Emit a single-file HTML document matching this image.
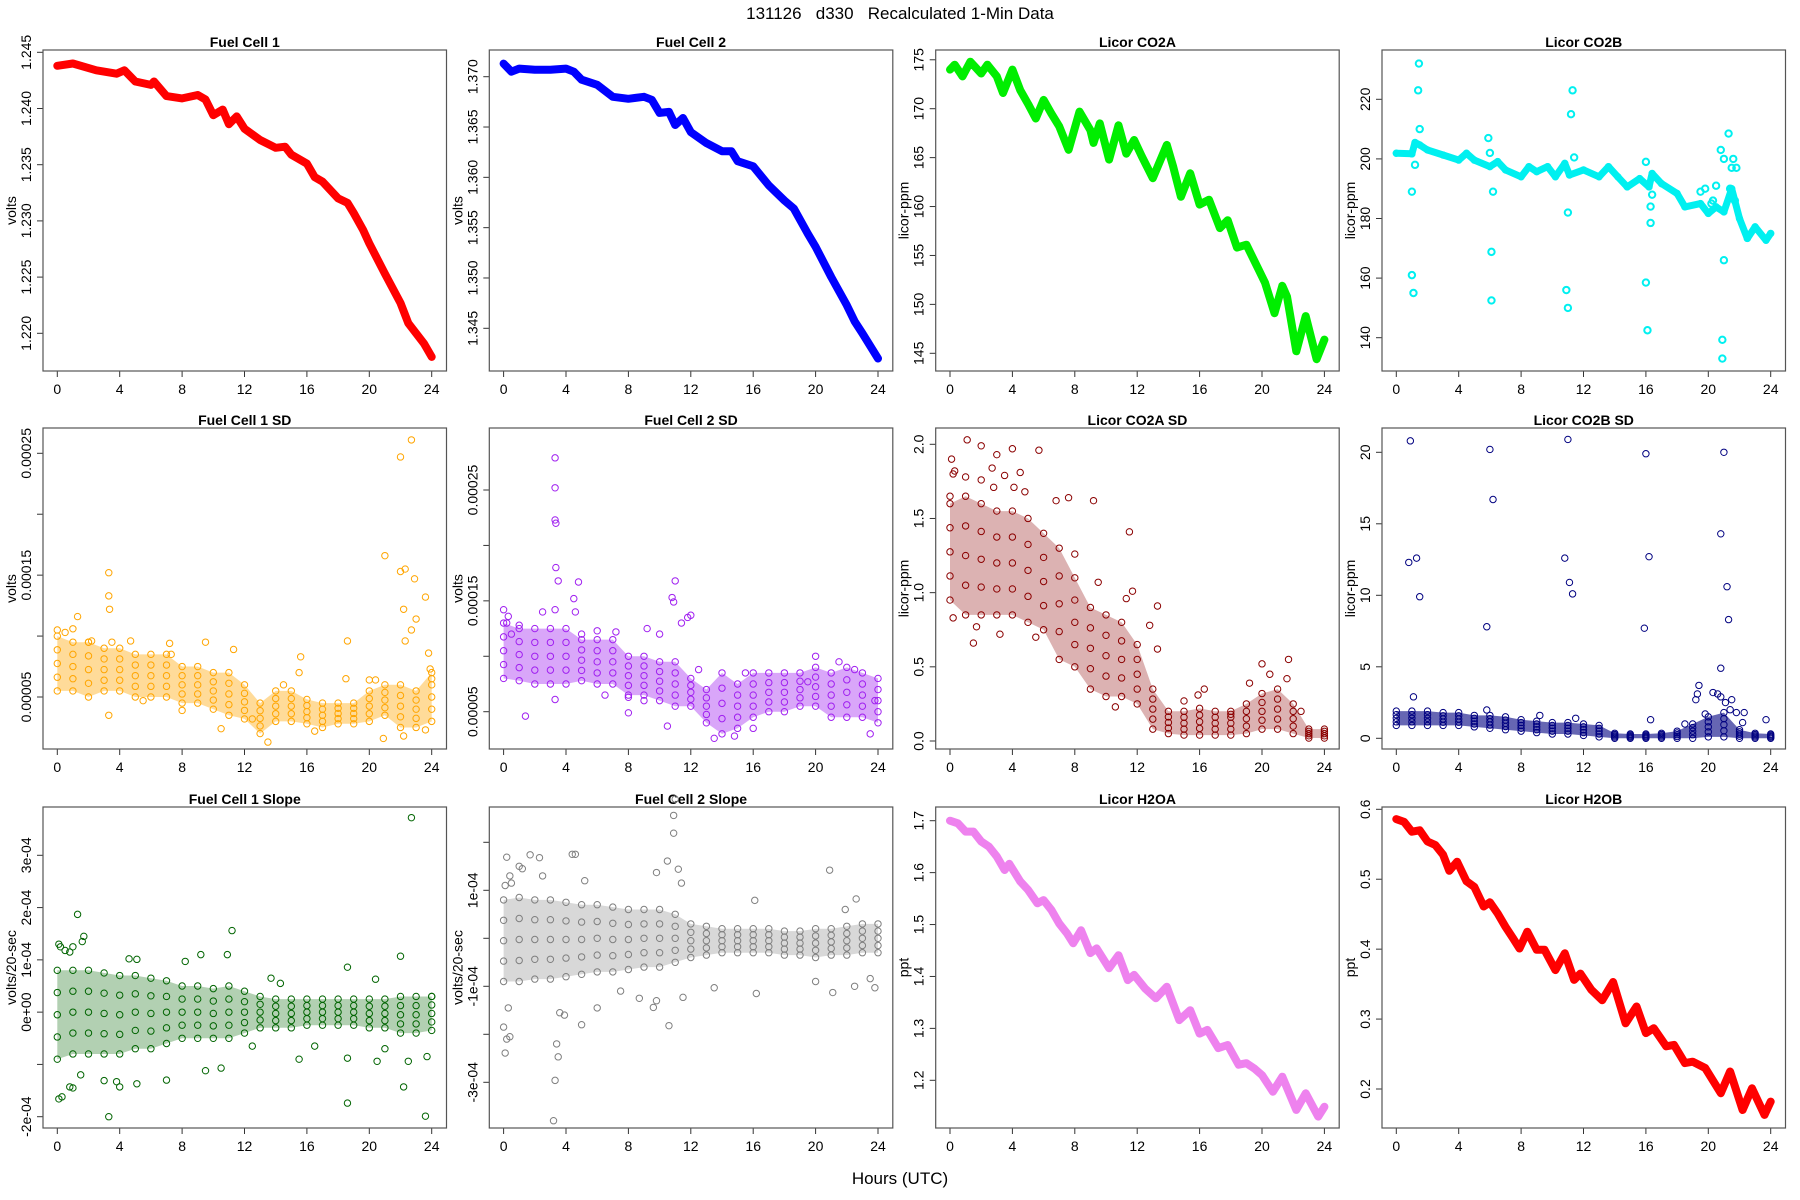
<!DOCTYPE html>
<html><head><meta charset="utf-8"><title>131126 d330 Recalculated 1-Min Data</title>
<style>
html,body{margin:0;padding:0;background:#fff;}
svg{display:block;font-family:"Liberation Sans",Arial,sans-serif;}
</style></head>
<body>
<svg id="fig" width="1800" height="1200" viewBox="0 0 1800 1200" xmlns="http://www.w3.org/2000/svg">
<rect x="0" y="0" width="1800" height="1200" fill="#fff"/>
<text x="900" y="19" text-anchor="middle" font-size="17" fill="#000" style="white-space:pre" xml:space="preserve">131126   d330   Recalculated 1-Min Data</text>
<text x="900" y="1184" text-anchor="middle" font-size="17" fill="#000">Hours (UTC)</text>
</svg>
<script>
// ---------- data ----------
const xTicks = [0,4,8,12,16,20,24];
const bandHours = [0,1,2,3,4,5,6,7,8,9,10,11,12,13,14,15,16,17,18,19,20,21,22,23,24];

// Fuel Cell 1 (volts)
const fc1Hours = [0,1,2.5,3.8,4.3,5,6,6.2,7,8,9,9.5,10,10.6,11,11.5,12,13,14,14.6,15,16,16.5,17,18,18.6,19,19.6,20,21,22,22.5,23,23.5,24];
const fc1Volts = [1.2438,1.2440,1.2434,1.2431,1.2434,1.2424,1.2421,1.2424,1.2411,1.2409,1.2412,1.2408,1.2394,1.2399,1.2386,1.2393,1.2382,1.2372,1.2365,1.2366,1.2359,1.2351,1.2339,1.2335,1.2320,1.2316,1.2307,1.2292,1.2280,1.2253,1.2227,1.2209,1.2200,1.2191,1.2179];
// Fuel Cell 2 (volts)
const fc2Hours = [0,0.5,1,2,3,4,4.5,5,6,7,8,9,9.5,10,10.6,11,11.5,12,13,14,14.6,15,16,17,18,18.6,19.5,20,21,22,22.5,23,24];
const fc2Volts = [1.3713,1.3705,1.3708,1.3707,1.3707,1.3708,1.3705,1.3697,1.3692,1.3680,1.3678,1.3680,1.3677,1.3664,1.3665,1.3652,1.3659,1.3645,1.3634,1.3626,1.3626,1.3616,1.3611,1.3592,1.3577,1.3569,1.3544,1.3531,1.3501,1.3473,1.3457,1.3445,1.3420];
// Licor CO2A (ppm)
const co2aHours = [0,0.3,0.8,1.3,2,2.4,3,3.4,4,4.5,5,5.5,6,6.5,7,7.6,8.3,9,9.2,9.6,10.2,10.8,11.3,11.8,12.3,13,13.9,14.3,14.8,15.4,16,16.6,17.3,17.8,18.4,19,19.8,20.2,20.8,21.3,21.6,22.2,22.8,23.5,24];
const co2aPpm = [174.0,174.5,173.3,174.8,173.6,174.5,173.3,171.6,174.0,171.9,170.5,169.0,170.9,169.5,168.2,165.8,169.7,167.8,166.5,168.5,164.8,168.3,165.4,166.8,165.1,162.9,166.3,164.1,161.0,163.4,160.2,160.7,157.8,158.6,155.8,156.1,153.5,152.2,149.1,151.9,150.8,145.2,148.8,144.4,146.4];
// Licor CO2B (ppm)
const co2bHours = [0,1,1.2,1.5,2,3,4,4.5,5,6,6.5,7,8,8.5,9,9.7,10.2,10.8,11.1,12,13,13.6,14.2,14.8,15.6,16.2,16.4,17,18,18.5,19.5,20,20.5,21,21.5,22,22.5,23,23.7,24];
const co2bPpm = [201.9,201.7,205.5,204.7,203.0,201.3,199.6,201.9,199.6,197.4,199.1,196.3,194.0,197.4,195.7,197.4,194.0,198.5,194.6,196.3,194.0,197.4,194.0,190.6,193.4,190.6,195.1,191.7,188.4,183.9,185.0,181.7,183.9,182.2,190.0,180.0,173.3,177.2,172.7,175.0];
const co2bOutHours = [1.1,1.0,1.0,1.2,1.4,1.45,1.5,5.9,6.0,6.1,6.1,6.2,10.9,11.0,11.0,11.3,11.2,11.4,16.0,16.0,16.1,16.3,16.3,16.4,20.9,20.9,21.0,21.3,20.8,21.0,21.6,21.5,21.8,21.4,21.7,20.5,20.2,19.5,19.8,20.3];
const co2bOutPpm = [155,161,189,198,223,232,210,207,202,168.8,152.5,189,156,150,182,223,215,200.5,199,158.5,142.5,184,178.5,188,139.3,133,166,208.5,203,200,200,197,197,190,186,191,185,189,190,186];

// Fuel Cell 1 SD (units of 1e-5 volts)
const fc1sdLow = [5.5,5.5,5,5.5,5.5,5,5,5,4.5,4.5,4,3.5,3.2,2,3,3,2.8,2.5,2.8,2.8,3,3.5,2.5,2.5,3];
const fc1sdHigh = [10,9.5,9.5,9,9,8.5,8.5,8.5,7.5,7.5,7,7,6,4.5,5.5,5.5,4.8,4.5,4.5,4.5,5.5,6,6,5.5,7];
const fc1sdOutHours = [0,0.5,1,1.3,2,2.2,3.3,3.35,3.3,3.3,3.5,4.7,5.5,7.2,7.3,8,9.5,11.3,10.5,12.5,13.5,14.5,15.6,15.5,16.5,18.6,18.5,20,20.4,20.9,21,22,22.7,22,22.3,22.9,23.6,22.2,23,22.7,22.3,23.8,23.9,24,22.2,23.6];
const fc1sdOutVal = [10.5,10.3,10.6,11.6,9.5,9.6,13.3,12.2,15.2,3.5,9.5,9.6,4.7,9.4,8.5,3.9,9.5,8.9,2.4,3.2,1.3,6,8.3,7,2.2,9.6,6.5,6.4,6.4,1.6,16.6,24.7,26.1,15.3,15.5,14.7,13.2,12.2,11.4,10.5,9.6,8.6,7.3,6.5,1.8,2.3];
// Fuel Cell 2 SD (units of 1e-5 volts)
const fc2sdLow = [8,7.8,7.5,7.5,7.5,7.8,7.5,7.5,6.5,6.5,6,5.5,5.5,4,3,3.5,4.5,5,5,5.5,5.5,4.5,4.5,4.5,4];
const fc2sdHigh = [13,12.5,12.5,12.5,12.5,11.5,11.5,11.5,10,10,9.5,9.5,8,7,8.5,7.5,8.5,8.5,8.5,8.5,9,8.5,9,8.5,8];
const fc2sdOutHours = [0,0.2,0.3,0.5,1,1.4,2.5,3.3,3.3,3.3,3.35,3.35,3.5,3.3,3.3,4.5,4.6,4.8,5,6,6.5,7.2,8,8,9,9.2,10,10.5,10.8,10.9,11,11.4,11.8,12,12.5,13.5,14.8,15.5,16,19.5,20,21.5,22.5,23.5,23.8];
const fc2sdOutVal = [14.2,13,13.6,12,12.8,4.6,14,27.9,25.2,22.3,22,18,16.8,14.2,6.1,15.2,14,16.7,12,12.3,6.5,12.2,4.9,6.3,6,12.5,12,3.7,15.3,14.9,16.8,13,13.5,13.7,8.8,2.6,2.8,8.5,3.5,7.7,10,9.5,8.8,3,6];
// Licor CO2A SD (ppm)
const co2asdLow = [0.95,0.85,0.85,0.85,0.85,0.8,0.75,0.55,0.5,0.35,0.3,0.3,0.25,0.08,0.05,0.04,0.04,0.04,0.04,0.05,0.08,0.08,0.05,0.02,0.02];
const co2asdHigh = [1.6,1.65,1.6,1.55,1.55,1.5,1.4,1.3,1.1,0.9,0.85,0.8,0.65,0.35,0.2,0.2,0.22,0.2,0.2,0.25,0.32,0.35,0.25,0.08,0.08];
const co2asdOutHours = [0,0.1,0.2,0.3,0.2,1,1.1,1.5,1.7,2,2,2.7,2.8,3,3.2,3.5,4,4.1,4.5,4.8,5.7,5.5,6.8,7.6,8,9.2,9.5,10.6,11.3,11.5,11.7,12.8,13.3,13.3,15,15.9,16.3,18,19.2,20,20.5,21.7,21.6,22.5];
const co2asdOutVal = [1.65,1.9,1.8,1.82,0.83,1.78,2.03,0.66,0.77,1.99,1.76,1.84,1.71,1.93,0.72,1.79,1.97,1.71,1.81,1.68,1.96,0.7,1.62,1.64,1.26,1.62,1.07,0.23,0.96,1.41,1.01,0.78,0.91,0.62,0.27,0.31,0.35,0.18,0.39,0.52,0.45,0.55,0.42,0.2];
// Licor CO2B SD (ppm)
const co2bsdLow = [0.9,0.9,0.9,0.9,0.9,0.8,0.7,0.6,0.5,0.4,0.3,0.3,0.2,0.1,0,0,0,0,0,0,0.1,0.1,0,0,0];
const co2bsdHigh = [1.9,1.9,1.9,1.8,1.8,1.6,1.6,1.5,1.3,1.2,1.1,1.1,1.0,0.9,0.35,0.3,0.3,0.35,0.5,1,1.5,1.8,0.6,0.35,0.3];
const co2bsdOutHours = [0.9,0.8,1.3,1.5,1.1,6,6.2,5.8,5.8,11,10.8,11.1,11.3,16,16.2,15.9,16.3,21,20.8,21.2,21.3,20.8,19.4,19.3,19.2,20.3,20.6,20.8,21.1,21.5,19.8,21.4,21.8,22.3,22.2,23.7,9.2,18.5,11.5];
const co2bsdOutVal = [20.8,12.3,12.6,9.9,2.9,20.2,16.7,7.8,1.98,20.9,12.6,10.9,10.1,19.9,12.7,7.7,1.3,20,14.3,10.6,8.3,4.9,3.7,3.1,2.7,3.2,3.1,2.9,2.5,2.7,1.7,2.0,1.8,1.8,1.1,1.3,1.6,1.0,1.4];
// Fuel Cell 1 Slope (units of 1e-5 volts/20-sec)
const fc1slLow = [-9,-8,-8,-8,-8,-7,-7,-6,-5,-5,-5,-5,-4,-3,-3,-3,-2.5,-2.5,-2.5,-2.5,-3,-3,-4,-4,-3.5];
const fc1slHigh = [8,8,8,7.5,7,7,6.5,6,5,5,4.5,5,4,3,2.5,2.5,2.5,2.5,2.5,2.5,2.5,2.5,3,3,3];
const fc1slOutHours = [0.1,0.3,0.1,0.2,0.5,0.8,1,1.3,1.6,1.7,1.5,0.8,1,3.3,3,3.8,4,4.6,5.1,5.1,7,8.2,9.2,10.9,11.2,9.5,10.5,12.5,13.7,14.3,15.5,16.5,18.6,18.6,18.6,20.4,20.5,22,22.7,22.2,22.5,23.6,23.7,21,24];
const fc1slOutVal = [-16.6,-16.2,13,12.5,11.8,11.5,12.5,18.7,13.5,14.5,-12,-14.3,-14.5,-20,-13.1,-13.3,-14.3,10.2,10.1,-13.7,-13,9.7,11,11,15.6,-11.2,-10.7,-6.5,6.5,5.5,-9,-6.5,8.6,-17.4,-8.8,6.3,-9.4,10.7,37.2,-14.3,-9.4,-19.9,-8.5,-7,3];
// Fuel Cell 2 Slope (units of 1e-5 volts/20-sec)
const fc2slLow = [-9,-9,-8.5,-8.5,-8,-7.5,-7,-7,-6.5,-6,-6,-5,-4,-3.5,-3,-3,-3,-3,-3.5,-3.5,-4,-3.5,-3.5,-3,-3];
const fc2slHigh = [8,8.5,8,8,7.5,7,7,6.5,6,6,6,5,3,2.5,2,2,2,2,1.5,1.5,2,2,2.5,3,3];
const fc2slOutHours = [0,0.1,0.2,0.4,0.3,0.1,0.2,0.4,0.5,1,1.2,1.7,2.3,2.5,3.4,3.3,3.5,3.2,3.6,3.9,4.4,4.6,5,5.2,6,7.5,8.7,9.6,9.8,9.8,10.5,10.6,10.9,10.9,11,11.2,11.4,11.5,13.5,16.1,16.2,20.9,20,21.1,21.9,22.5,22.6,23.8,23.5];
const fc2slOutVal = [-18.5,-23.9,-21,-20.5,-14.5,11,16.9,13,11.5,15,14.5,17.4,16.8,13,-22,-29.6,-24.7,-38,-15.5,-16,17.5,17.5,-18,12,-14.5,-11,-12.5,-14.4,-13,13.7,16.1,-18.2,21.9,25.6,29,14.4,11.5,-12.3,-10.3,7.9,-11.5,14.2,-9,-11.3,6,-10,8.2,-10.3,-8.4];
// Licor H2OA (ppt)
const h2oaHours = [0,0.5,1,1.5,2,2.5,3,3.5,3.8,4.5,5,5.6,6,6.5,7,7.5,7.9,8.4,9,9.4,10.2,10.8,11.4,11.8,12.5,13.2,13.9,14.7,15.4,16,16.5,17.2,17.8,18.5,19,19.5,20,20.7,21.3,22.2,22.8,23.6,24];
const h2oaPpt = [1.700,1.695,1.679,1.679,1.660,1.650,1.631,1.605,1.617,1.583,1.567,1.541,1.547,1.528,1.502,1.483,1.464,1.489,1.445,1.454,1.416,1.441,1.393,1.403,1.377,1.358,1.380,1.316,1.335,1.290,1.297,1.262,1.268,1.230,1.233,1.223,1.210,1.178,1.207,1.143,1.175,1.130,1.149];
// Licor H2OB (ppt)
const h2obHours = [0,0.5,1,1.5,2,2.5,3,3.4,3.9,4.5,5,5.6,6,6.5,7,7.5,7.9,8.4,9,9.5,10.2,10.8,11.4,11.8,12.5,13.2,13.9,14.7,15.4,16,16.5,17.3,17.8,18.5,19,19.8,20.8,21.4,22.2,22.8,23.6,24];
const h2obPpt = [0.586,0.582,0.568,0.570,0.554,0.549,0.535,0.512,0.525,0.497,0.489,0.461,0.467,0.451,0.432,0.415,0.401,0.425,0.399,0.399,0.370,0.394,0.356,0.365,0.342,0.327,0.353,0.294,0.318,0.280,0.287,0.261,0.263,0.237,0.239,0.230,0.194,0.225,0.170,0.201,0.163,0.182];

// ---------- layout ----------
const NS = 'http://www.w3.org/2000/svg';
const svg = document.getElementById('fig');
const colLeft = [43, 489.3, 935.7, 1382];
const rowTop = [50, 428, 807];
const BOXW = 403.5, BOXH = 321;

function mk(tag, attrs, name, parent) {
  const el = document.createElementNS(NS, tag);
  for (const k in attrs) el.setAttribute(k, attrs[k]);
  
  
  (parent || svg).appendChild(el);
  return el;
}

function makePanel(cfg) {
  const L = colLeft[cfg.col], T = rowTop[cfg.row];
  const g = mk('g', {}, cfg.id + '-panel');
  const xs = h => L + 14.3 + h * (374.4 / 24);
  const ys = v => cfg.p1 + (v - cfg.v1) * (cfg.p2 - cfg.p1) / (cfg.v2 - cfg.v1);
  const t = mk('text', {x: L + BOXW / 2, y: T - 3, 'text-anchor': 'middle', 'font-size': 14, 'font-weight': 'bold'}, cfg.id + '-title', g);
  t.textContent = cfg.title;
  const yl = mk('text', {x: L - 27, y: T + BOXH / 2, 'text-anchor': 'middle', 'font-size': 14, transform: 'rotate(-90 ' + (L - 27) + ' ' + (T + BOXH / 2) + ')'}, cfg.id + '-y-axis-title', g);
  yl.textContent = cfg.ylab;
  mk('line', {x1: xs(0), x2: xs(24), y1: T + BOXH, y2: T + BOXH, stroke: '#333', 'stroke-width': 1}, cfg.id + '-x-axis', g);
  xTicks.forEach(h => {
    mk('line', {x1: xs(h), x2: xs(h), y1: T + BOXH, y2: T + BOXH + 6, stroke: '#333'}, cfg.id + '-x-tick', g);
    const tl = mk('text', {x: xs(h), y: T + BOXH + 23, 'text-anchor': 'middle', 'font-size': 14}, cfg.id + '-x-tick-label', g);
    tl.textContent = String(h);
  });
  cfg.yTicks.forEach((v, i) => {
    const py = ys(v);
    mk('line', {x1: L - 6, x2: L, y1: py, y2: py, stroke: '#333'}, cfg.id + '-y-tick', g);
    const lab = cfg.yLabels[i];
    if (lab) {
      const tx = L - 12;
      const tl = mk('text', {x: tx, y: py, 'text-anchor': 'middle', 'font-size': 14, transform: 'rotate(-90 ' + tx + ' ' + py + ')'}, cfg.id + '-y-tick-label', g);
      tl.textContent = lab;
    }
  });
  const mg = mk('g', {}, cfg.id + '-series', g);
  if (cfg.lineX) {
    let d = '';
    cfg.lineX.forEach((h, i) => { d += (i ? 'L' : 'M') + xs(h).toFixed(1) + ' ' + ys(cfg.lineY[i] * cfg.k).toFixed(1); });
    mk('path', {d: d, fill: 'none', stroke: cfg.color, 'stroke-width': cfg.lw || 8, 'stroke-linejoin': 'round', 'stroke-linecap': 'round'}, cfg.id + '-line', mg);
    cfg.lineX.forEach((h, i) => {
      mk('circle', {cx: xs(h), cy: ys(cfg.lineY[i] * cfg.k), r: 3.2, fill: 'none', stroke: cfg.color, 'stroke-width': 1}, cfg.id + '-point', mg);
    });
  }
  if (cfg.low) {
    let d = '';
    bandHours.forEach((h, i) => { d += (i ? 'L' : 'M') + xs(h).toFixed(1) + ' ' + ys(cfg.high[i] * cfg.k).toFixed(1); });
    for (let i = bandHours.length - 1; i >= 0; i--) d += 'L' + xs(bandHours[i]).toFixed(1) + ' ' + ys(cfg.low[i] * cfg.k).toFixed(1);
    d += 'Z';
    mk('path', {d: d, fill: cfg.color, 'fill-opacity': cfg.op || 0.4, stroke: 'none'}, cfg.id + '-band', mg);
    bandHours.forEach((h, i) => {
      const lo = cfg.low[i], hi = cfg.high[i];
      [lo, hi, (lo + hi) / 2, (3 * lo + hi) / 4, (lo + 3 * hi) / 4].forEach(v => {
        mk('circle', {cx: xs(h), cy: ys(v * cfg.k), r: 3.2, fill: 'none', stroke: cfg.color, 'stroke-width': 1}, cfg.id + '-point', mg);
      });
    });
  }
  if (cfg.outX) {
    cfg.outX.forEach((h, i) => {
      mk('circle', {cx: xs(h), cy: ys(cfg.outY[i] * cfg.k), r: 3.2, fill: 'none', stroke: cfg.color, 'stroke-width': cfg.ow || 1}, cfg.id + '-point', mg);
    });
  }
  mk('rect', {x: L, y: T, width: BOXW, height: BOXH, fill: 'none', stroke: '#555', 'stroke-width': 1.2}, cfg.id + '-plot-frame', g);
}

const fmt5 = ['0.00005','','0.00015','','0.00025'];
const panels = [
  {id:'fuel-cell-1', title:'Fuel Cell 1', ylab:'volts', col:0,row:0, v1:1.245,p1:52.3,v2:1.220,p2:333.3, k:1, color:'#ff0000',
   yTicks:[1.220,1.225,1.230,1.235,1.240,1.245], yLabels:['1.220','1.225','1.230','1.235','1.240','1.245'], lineX:fc1Hours, lineY:fc1Volts},
  {id:'fuel-cell-2', title:'Fuel Cell 2', ylab:'volts', col:1,row:0, v1:1.370,p1:76.7,v2:1.345,p2:328.3, k:1, color:'#0000ff',
   yTicks:[1.345,1.350,1.355,1.360,1.365,1.370], yLabels:['1.345','1.350','1.355','1.360','1.365','1.370'], lineX:fc2Hours, lineY:fc2Volts},
  {id:'licor-co2a', title:'Licor CO2A', ylab:'licor-ppm', col:2,row:0, v1:170,p1:108.7,v2:145,p2:353.3, k:1, color:'#00ee00',
   yTicks:[145,150,155,160,165,170,175], yLabels:['145','150','155','160','165','170','175'], lineX:co2aHours, lineY:co2aPpm},
  {id:'licor-co2b', title:'Licor CO2B', ylab:'licor-ppm', col:3,row:0, v1:220,p1:99.3,v2:140,p2:337.7, k:1, color:'#00f0f0', lw:7,
   yTicks:[140,160,180,200,220], yLabels:['140','160','180','200','220'], lineX:co2bHours, lineY:co2bPpm, outX:co2bOutHours, outY:co2bOutPpm, ow:2},
  {id:'fuel-cell-1-sd', title:'Fuel Cell 1 SD', ylab:'volts', col:0,row:1, v1:0.00025,p1:453.3,v2:0.00005,p2:697, k:1e-5, color:'#ffa500',
   yTicks:[0.00005,0.0001,0.00015,0.0002,0.00025], yLabels:fmt5, low:fc1sdLow, high:fc1sdHigh, outX:fc1sdOutHours, outY:fc1sdOutVal},
  {id:'fuel-cell-2-sd', title:'Fuel Cell 2 SD', ylab:'volts', col:1,row:1, v1:0.00025,p1:490,v2:0.00005,p2:711.7, k:1e-5, color:'#a020f0',
   yTicks:[0.00005,0.0001,0.00015,0.0002,0.00025], yLabels:fmt5, low:fc2sdLow, high:fc2sdHigh, outX:fc2sdOutHours, outY:fc2sdOutVal},
  {id:'licor-co2a-sd', title:'Licor CO2A SD', ylab:'licor-ppm', col:2,row:1, v1:2.0,p1:444.3,v2:0,p2:741, k:1, color:'#8b0000', op:0.3,
   yTicks:[0,0.5,1,1.5,2], yLabels:['0.0','0.5','1.0','1.5','2.0'], low:co2asdLow, high:co2asdHigh, outX:co2asdOutHours, outY:co2asdOutVal},
  {id:'licor-co2b-sd', title:'Licor CO2B SD', ylab:'licor-ppm', col:3,row:1, v1:20,p1:452.3,v2:0,p2:738.3, k:1, color:'#000080', op:0.6,
   yTicks:[0,5,10,15,20], yLabels:['0','5','10','15','20'], low:co2bsdLow, high:co2bsdHigh, outX:co2bsdOutHours, outY:co2bsdOutVal},
  {id:'fuel-cell-1-slope', title:'Fuel Cell 1 Slope', ylab:'volts/20-sec', col:0,row:2, v1:3e-4,p1:855.3,v2:-2e-4,p2:1116.7, k:1e-5, color:'#006400', op:0.3,
   yTicks:[-2e-4,-1e-4,0,1e-4,2e-4,3e-4], yLabels:['-2e-04','','0e+00','1e-04','2e-04','3e-04'], low:fc1slLow, high:fc1slHigh, outX:fc1slOutHours, outY:fc1slOutVal},
  {id:'fuel-cell-2-slope', title:'Fuel Cell 2 Slope', ylab:'volts/20-sec', col:1,row:2, v1:1e-4,p1:890.3,v2:-3e-4,p2:1082.3, k:1e-5, color:'#7f7f7f', op:0.3,
   yTicks:[-3e-4,-2e-4,-1e-4,0,1e-4,2e-4], yLabels:['-3e-04','','-1e-04','','1e-04',''], low:fc2slLow, high:fc2slHigh, outX:fc2slOutHours, outY:fc2slOutVal},
  {id:'licor-h2oa', title:'Licor H2OA', ylab:'ppt', col:2,row:2, v1:1.7,p1:820.7,v2:1.2,p2:1080.3, k:1, color:'#ee82ee',
   yTicks:[1.2,1.3,1.4,1.5,1.6,1.7], yLabels:['1.2','1.3','1.4','1.5','1.6','1.7'], lineX:h2oaHours, lineY:h2oaPpt},
  {id:'licor-h2ob', title:'Licor H2OB', ylab:'ppt', col:3,row:2, v1:0.6,p1:809.3,v2:0.2,p2:1089, k:1, color:'#ff0000',
   yTicks:[0.2,0.3,0.4,0.5,0.6], yLabels:['0.2','0.3','0.4','0.5','0.6'], lineX:h2obHours, lineY:h2obPpt}
];
panels.forEach(makePanel);
</script>
</body></html>
